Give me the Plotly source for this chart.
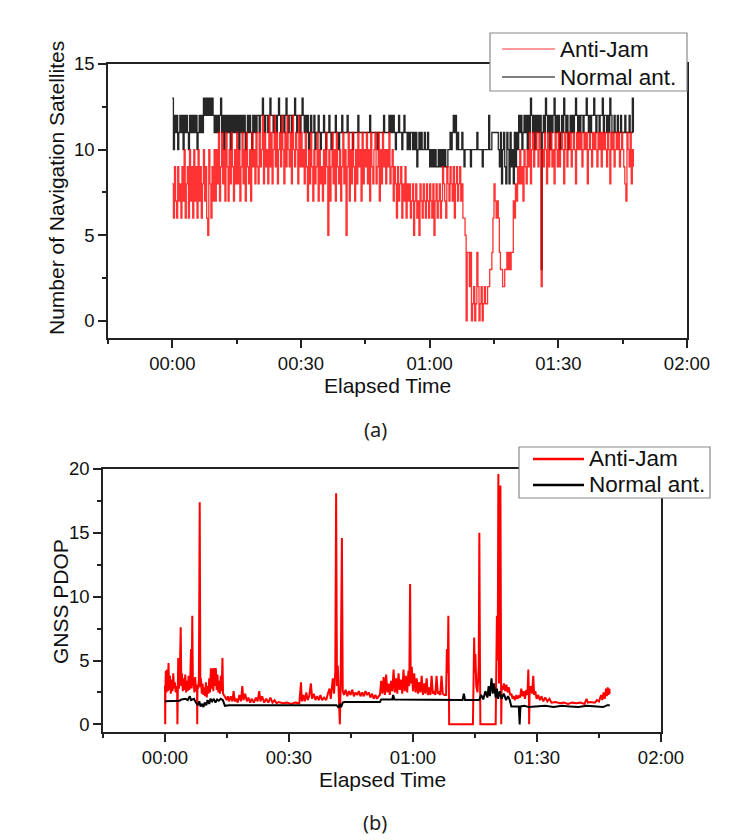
import plotly.graph_objects as go

# ---------------- (a) Number of navigation satellites ----------------
# samples every 15 s (0.25 min), 00:00 .. 01:47:30; one row = 5 minutes
nav_t0 = 0.0
nav_dt = 0.25

nav_normal = [
    13, 10, 12, 11, 12, 10, 11, 12, 11, 12, 10, 12, 11, 12, 11, 10, 12, 11, 12, 11,
    12, 11, 12, 10, 11, 12, 11, 12, 11, 13, 12, 13, 12, 13, 12, 13, 12, 13, 12, 11,
    12, 11, 12, 11, 12, 13, 11, 12, 10, 12, 11, 12, 11, 12, 10, 12, 11, 12, 11, 12,
    11, 12, 10, 12, 11, 12, 11, 12, 10, 11, 12, 11, 12, 11, 10, 12, 11, 12, 11, 12,
    12, 11, 12, 12, 13, 12, 11, 12, 12, 11, 12, 13, 12, 12, 11, 12, 12, 11, 12, 13,
    12, 11, 12, 12, 11, 12, 13, 12, 11, 12, 12, 11, 12, 12, 13, 12, 11, 12, 12, 11,
    12, 13, 12, 11, 12, 11, 12, 10, 11, 12, 11, 11, 12, 10, 11, 11, 12, 11, 10, 11,
    11, 12, 11, 10, 11, 11, 12, 11, 10, 11, 11, 11, 12, 11, 11, 10, 11, 11, 12, 11,
    11, 11, 11, 12, 11, 11, 11, 11, 10, 11, 11, 11, 11, 12, 11, 11, 11, 11, 11, 11,
    11, 11, 11, 11, 12, 11, 11, 11, 11, 11, 11, 10, 11, 11, 11, 11, 11, 12, 11, 11,
    11, 11, 12, 11, 12, 11, 12, 11, 10, 11, 11, 12, 11, 11, 10, 11, 12, 11, 11, 10,
    11, 10, 11, 11, 10, 11, 10, 11, 9, 10, 11, 10, 11, 10, 10, 11, 10, 10, 11, 10,
    9, 10, 9, 10, 9, 10, 9, 9, 10, 9, 10, 9, 10, 9, 10, 9, 9, 10, 10, 11,
    10, 11, 12, 11, 12, 10, 11, 10, 10, 10, 11, 10, 9, 10, 10, 10, 10, 10, 9, 10,
    10, 10, 10, 10, 11, 10, 10, 10, 10, 9, 10, 10, 10, 10, 10, 12, 10, 10, 11, 11,
    11, 11, 11, 11, 10, 9, 11, 8, 10, 11, 9, 8, 11, 10, 8, 11, 9, 10, 8, 11,
    9, 11, 10, 12, 11, 12, 10, 11, 12, 11, 12, 10, 12, 11, 13, 12, 11, 12, 10, 12,
    11, 12, 11, 12, 3, 11, 12, 11, 13, 12, 11, 12, 10, 12, 11, 12, 13, 11, 12, 11,
    12, 10, 11, 12, 11, 13, 12, 11, 12, 10, 11, 12, 11, 12, 11, 12, 13, 12, 11, 12,
    11, 12, 12, 11, 12, 12, 13, 12, 11, 12, 11, 12, 12, 13, 12, 11, 12, 12, 11, 12,
    12, 13, 11, 12, 12, 11, 12, 11, 13, 12, 11, 11, 12, 11, 11, 12, 11, 11, 12, 11,
    11, 11, 12, 11, 11, 11, 12, 11, 11, 13, 11,
]

nav_antijam = [
    8, 6, 9, 7, 6, 9, 7, 8, 6, 9, 7, 10, 6, 8, 9, 6, 10, 7, 9, 6,
    10, 7, 9, 6, 10, 7, 9, 6, 8, 10, 7, 9, 6, 5, 10, 8, 6, 9, 7, 10,
    7, 10, 8, 11, 7, 9, 11, 8, 10, 7, 11, 9, 7, 10, 8, 11, 9, 7, 10, 8,
    11, 8, 10, 7, 9, 11, 8, 10, 7, 11, 9, 8, 10, 7, 11, 9, 10, 8, 11, 9,
    8, 11, 9, 10, 12, 8, 11, 9, 10, 8, 12, 9, 11, 8, 10, 12, 9, 11, 8, 10,
    11, 9, 12, 10, 8, 11, 9, 12, 10, 9, 11, 8, 12, 10, 9, 11, 10, 8, 12, 9,
    11, 9, 10, 8, 11, 9, 7, 10, 8, 11, 9, 7, 10, 8, 9, 11, 7, 10, 8, 9,
    7, 10, 8, 11, 9, 5, 10, 7, 9, 11, 8, 10, 7, 11, 9, 8, 10, 7, 9, 11,
    8, 10, 5, 9, 11, 7, 10, 8, 11, 9, 7, 10, 8, 11, 9, 10, 7, 11, 8, 10,
    9, 11, 8, 10, 7, 11, 9, 8, 10, 11, 8, 9, 11, 7, 10, 8, 11, 9, 10, 8,
    10, 9, 11, 8, 9, 10, 7, 9, 8, 6, 9, 7, 8, 9, 6, 8, 7, 9, 6, 8,
    7, 8, 6, 7, 8, 5, 7, 8, 6, 7, 5, 8, 7, 6, 8, 7, 6, 8, 7, 6,
    8, 7, 6, 8, 5, 7, 8, 6, 7, 8, 6, 7, 9, 8, 7, 6, 9, 8, 7, 9,
    8, 7, 9, 6, 8, 9, 7, 8, 9, 7, 8, 6, 6, 5, 0, 4, 4, 2, 4, 0,
    1, 2, 0, 1, 4, 2, 0, 1, 2, 0, 1, 2, 1, 1, 2, 2, 3, 3, 4, 6,
    8, 7, 6, 7, 6, 4, 3, 3, 2, 2, 3, 3, 4, 3, 4, 3, 4, 4, 7, 6,
    8, 7, 9, 8, 10, 8, 9, 7, 10, 9, 8, 10, 9, 11, 8, 10, 11, 9, 10, 11,
    10, 9, 11, 10, 2, 10, 9, 11, 10, 8, 11, 9, 10, 11, 9, 10, 8, 11, 10, 9,
    11, 9, 10, 11, 10, 8, 11, 10, 9, 11, 10, 11, 9, 10, 11, 10, 8, 11, 10, 11,
    10, 11, 9, 10, 11, 10, 11, 8, 10, 11, 10, 9, 11, 10, 11, 10, 9, 11, 10, 11,
    9, 11, 10, 11, 10, 9, 11, 10, 8, 11, 10, 11, 9, 10, 11, 10, 11, 9, 10, 11,
    10, 9, 8, 7, 11, 10, 9, 11, 8, 10, 9,
]

nav_normal_t = [nav_t0 + i * nav_dt for i in range(len(nav_normal))]
nav_antijam_t = [nav_t0 + i * nav_dt for i in range(len(nav_antijam))]

# ---------------- (b) GNSS PDOP ----------------
pdop_normal_t = [
    0, 3.5, 4, 5, 5.5, 6, 6.3, 7, 7.5, 8, 8.3, 8.6, 9, 9.3, 9.6, 10, 10.3, 10.7,
    11, 11.4, 11.8, 12.2, 12.6, 13, 13.5, 14, 14.5, 15.5, 41.5, 42, 42.3, 42.6,
    43, 43.4, 52, 52.3, 55, 55.2, 55.5, 68, 68.5, 72, 72.3, 72.6, 76, 76.5, 77,
    77.5, 78, 78.3, 78.6, 79, 79.3, 79.6, 80, 80.3, 80.6, 81, 81.4, 82, 82.5, 83,
    83.4, 83.8, 85.6, 85.8, 86, 87, 88, 90, 92, 94, 96, 98, 100, 102, 104, 106,
    107, 107.6,
]
pdop_normal = [
    1.8, 1.85, 1.95, 2.0, 1.9, 2.2, 1.9, 2.0, 1.7, 1.5, 1.8, 1.4, 1.6, 1.35, 1.7,
    1.5, 1.9, 1.6, 2.0, 1.8, 2.0, 1.7, 1.95, 1.85, 2.0, 1.9, 1.45, 1.5, 1.5, 1.3,
    1.6, 1.35, 1.7, 1.75, 1.75, 1.95, 1.95, 2.3, 1.95, 1.95, 1.9, 1.9, 2.4, 1.9,
    1.9, 2.3, 1.95, 2.6, 2.1, 3.0, 2.2, 3.6, 2.4, 3.2, 2.1, 2.8, 2.0, 2.6, 2.0,
    2.4, 1.9, 2.2, 1.9, 1.4, 1.4, 0, 1.4, 1.45, 1.35, 1.4, 1.45, 1.35, 1.45, 1.4,
    1.35, 1.45, 1.4, 1.35, 1.5, 1.5,
]

pdop_antijam_t = [
    0.0, 0.05, 0.1, 0.2, 0.35, 0.5, 0.7, 0.85, 1.0, 1.2, 1.4, 1.6, 1.8, 2.0, 2.2,
    2.4, 2.6, 2.8, 2.95, 3.0, 3.05, 3.2, 3.4, 3.6, 3.8, 3.95, 4.1, 4.3, 4.5, 4.7,
    4.9, 5.1, 5.3, 5.5, 5.7, 5.9, 6.1, 6.3, 6.45, 6.6, 6.75, 6.9, 7.1, 7.3, 7.5,
    7.75, 7.8, 7.85, 8.0, 8.2, 8.4, 8.55, 8.7, 8.9, 9.1, 9.3, 9.5, 9.7, 9.9, 10.1,
    10.3, 10.5, 10.7, 10.9, 11.1, 11.3, 11.5, 11.7, 11.9, 12.1, 12.3, 12.5, 12.7,
    12.9, 13.1, 13.3, 13.5, 13.7, 13.9, 14.05, 14.3, 14.6, 14.9, 15.2, 15.5, 15.9,
    16.3, 16.6, 16.9, 17.3, 17.6, 18.0, 18.4, 18.7, 19.0, 19.4, 19.8, 20.2, 20.6,
    21.0, 21.5, 22.0, 22.4, 22.8, 23.1, 23.5, 24.0, 24.5, 25.0, 25.5, 26.0, 26.5,
    27.0, 27.5, 28.5, 29.5, 30.5, 31.5, 32.5, 32.9, 33.1, 33.5, 33.8, 34.2, 34.5,
    34.9, 35.3, 35.6, 36.0, 36.4, 36.8, 37.2, 37.6, 38.0, 38.5, 39.0, 39.4, 39.8,
    40.1, 40.6, 40.9, 41.2, 41.4, 41.6, 41.8, 42.0, 42.3, 42.5, 42.8, 43.0, 43.3,
    43.7, 44.1, 44.5, 44.9, 45.3, 45.7, 46.1, 46.5, 46.9, 47.3, 47.7, 48.1, 48.5,
    48.9, 49.3, 49.7, 50.1, 50.5, 50.9, 51.3, 51.7, 52.0, 52.3, 52.6, 52.9, 53.2,
    53.5, 53.8, 54.1, 54.4, 54.7, 55.0, 55.3, 55.6, 55.9, 56.2, 56.5, 56.8, 57.1,
    57.4, 57.7, 58.0, 58.3, 58.6, 58.9, 59.1, 59.3, 59.45, 59.7, 60.0, 60.3, 60.6,
    60.9, 61.2, 61.5, 61.8, 62.1, 62.4, 62.7, 63.0, 63.3, 63.6, 63.9, 64.2, 64.5,
    64.8, 65.1, 65.4, 65.7, 66.0, 66.3, 66.6, 66.9, 67.2, 67.6, 68.0, 68.2, 68.4,
    68.55, 68.7, 68.75, 74.5, 74.6, 74.8, 74.95, 75.1, 75.3, 75.6, 75.9, 76.05,
    76.2, 76.3, 80.0, 80.05, 80.3, 80.5, 80.65, 80.8, 81.0, 81.15, 81.3, 81.35,
    81.45, 81.7, 82.0, 82.3, 82.6, 82.9, 83.2, 83.5, 83.8, 84.1, 84.4, 84.7, 85.0,
    85.3, 85.6, 85.9, 86.2, 86.5, 86.8, 87.1, 87.4, 87.7, 87.9, 88.05, 88.1, 88.2,
    88.5, 88.8, 89.1, 89.3, 89.6, 89.9, 90.3, 90.7, 91.1, 91.5, 92.0, 92.5, 93.0,
    93.5, 94.5, 95.5, 96.5, 97.5, 98.5, 99.5, 100.5, 101.5, 102.0, 102.3, 103.0,
    104.0, 104.5, 105.0, 105.5, 105.8, 106.1, 106.4, 106.7, 106.9, 107.1, 107.3,
    107.5, 107.6,
]
pdop_antijam = [
    3.0, 0, 2.8, 4.2, 2.5, 4.3, 2.6, 4.8, 2.7, 3.8, 2.4, 3.5, 2.6, 4.0, 2.8,
    3.3, 2.5, 3.0, 2.6, 0, 2.9, 5.2, 2.8, 4.2, 7.6, 3.0, 4.0, 2.6, 3.6, 2.7,
    3.9, 2.5, 3.4, 2.6, 3.8, 2.7, 3.5, 5.9, 2.8, 8.5, 3.0, 3.6, 2.5, 3.7, 2.6,
    3.0, 0, 3.1, 2.8, 3.5, 17.4, 2.9, 3.6, 2.4, 3.2, 2.3, 2.9, 2.2, 3.3, 2.1,
    3.0, 2.4, 3.6, 2.5, 4.4, 2.8, 4.4, 2.6, 4.4, 3.0, 4.4, 2.7, 3.9,
    2.5, 3.4, 2.4, 3.8, 2.6, 5.2, 2.4, 2.3, 2.1, 1.9, 2.2, 1.8, 2.2,
    1.8, 2.6, 1.8, 2.0, 1.7, 2.3, 1.8, 3.0, 1.9, 2.4, 1.8, 2.1, 1.7,
    2.0, 1.7, 2.1, 1.8, 2.6, 1.8, 2.2, 1.7, 2.0, 1.7, 2.1, 1.7, 1.9,
    1.65, 1.75, 1.65, 1.7, 1.6, 1.7, 1.65, 3.3, 1.8, 2.3, 1.8, 2.5, 1.9,
    2.2, 3.2, 2.0, 2.4, 1.9, 2.2, 1.9, 2.3, 1.9, 2.1, 1.9, 2.4, 2.8,
    2.0, 3.6, 2.4, 4.2, 18.1, 3.0, 4.6, 2.8, 0, 3.2, 14.6, 2.6, 2.3,
    2.7, 2.2, 2.6, 2.3, 2.7, 2.2, 2.5, 2.3, 2.6, 2.2, 2.5, 2.2, 2.6,
    2.3, 2.5, 2.1, 2.4, 2.0, 2.3, 2.0, 2.2, 2.3, 3.4, 2.4, 3.7, 2.3,
    3.9, 2.5, 3.2, 2.3, 3.4, 2.6, 4.3, 2.5, 3.6, 2.4, 4.0, 2.7, 3.5,
    2.4, 4.3, 2.6, 3.8, 2.5, 4.2, 3.0, 11.0, 3.2, 4.5, 2.6, 4.0, 2.5,
    3.6, 2.4, 3.3, 2.5, 3.8, 2.3, 3.2, 2.4, 3.6, 2.3, 2.9, 2.3, 3.8,
    2.4, 2.6, 2.3, 3.8, 2.4, 2.5, 2.3, 3.8, 2.4, 2.3, 2.3, 5.9, 4.0,
    8.5, 5.0, 0, 0, 3.5, 6.8, 4.0, 5.5, 3.0, 2.5, 4.5, 15.0,
    5.0, 0, 0, 3.0, 8.5, 5.0, 19.6, 3.2, 5.5, 18.7, 3.0, 0,
    3.0, 2.7, 3.2, 2.6, 3.1, 2.5, 2.9, 2.3, 2.4, 2.0, 2.2, 1.9, 2.3,
    2.0, 2.2, 2.1, 2.8, 2.2, 2.6, 2.0, 2.7, 2.3, 4.3, 2.0, 0, 2.4,
    3.0, 2.4, 3.8, 2.3, 2.6, 2.0, 2.3, 1.9, 2.2, 1.8, 2.1, 1.8, 2.0,
    1.7, 1.75, 1.65, 1.7, 1.6, 1.7, 1.65, 1.7, 1.6, 2.0, 1.7, 1.75,
    1.7, 1.9, 1.8, 2.3, 1.9, 2.5, 2.0, 2.8, 2.2, 2.9, 2.3,
    2.8, 2.4,
]

series_names = ["Anti-Jam", "Normal ant."]

x_tickvals = [0, 30, 60, 90, 120]
x_ticktext = ["00:00", "00:30", "01:00", "01:30", "02:00"]
x_minor = [-15, 15, 45, 75, 105]

# styles
nav_colors = ["rgba(255,0,0,0.8)", "rgba(0,0,0,0.85)"]
nav_legend_colors = ["#ff7a7a", "#555555"]
pdop_colors = ["#ff0000", "#000000"]

W, H = 741, 840


def px(x):
    return x / W


def py(y):
    return 1 - y / H


fig = go.Figure()

# top chart traces (black drawn first, red on top)
fig.add_trace(go.Scatter(
    x=nav_normal_t, y=nav_normal, mode="lines", name=series_names[1],
    line=dict(color=nav_colors[1], width=1.3, shape="hv"),
    xaxis="x", yaxis="y", showlegend=False,
))
fig.add_trace(go.Scatter(
    x=nav_antijam_t, y=nav_antijam, mode="lines", name=series_names[0],
    line=dict(color=nav_colors[0], width=1.3, shape="hv"),
    xaxis="x", yaxis="y", showlegend=False,
))

# bottom chart traces
fig.add_trace(go.Scatter(
    x=pdop_antijam_t, y=pdop_antijam, mode="lines", name=series_names[0],
    line=dict(color=pdop_colors[0], width=2),
    xaxis="x2", yaxis="y2", showlegend=False,
))
fig.add_trace(go.Scatter(
    x=pdop_normal_t, y=pdop_normal, mode="lines", name=series_names[1],
    line=dict(color=pdop_colors[1], width=2),
    xaxis="x2", yaxis="y2", showlegend=False,
))

tickfont = dict(family="Liberation Sans, Arial, sans-serif", size=18.5, color="#111")
axcol = "#222"


def xax(domain, anchor):
    return dict(
        domain=domain, anchor=anchor, range=[-15, 120], automargin=False,
        tickmode="array", tickvals=x_tickvals, ticktext=x_ticktext,
        ticks="outside", ticklen=8, tickwidth=1.5, tickcolor=axcol,
        minor=dict(tickmode="array", tickvals=x_minor, ticks="outside",
                   ticklen=4, tickwidth=1.5, tickcolor=axcol),
        showline=True, linewidth=1.5, linecolor=axcol, mirror=True,
        showgrid=False, zeroline=False, tickfont=tickfont,
    )


def yax(domain, anchor, rng, major, minor):
    return dict(
        domain=domain, anchor=anchor, range=rng, automargin=False,
        tickmode="array", tickvals=major,
        ticks="outside", ticklen=8, tickwidth=1.5, tickcolor=axcol,
        minor=dict(tickmode="array", tickvals=minor, ticks="outside",
                   ticklen=4, tickwidth=1.5, tickcolor=axcol),
        showline=True, linewidth=1.5, linecolor=axcol, mirror=True,
        showgrid=False, zeroline=False, tickfont=tickfont,
    )


xtitlefont = dict(family="Liberation Sans, Arial, sans-serif", size=21, color="#111")
ytitlefont = dict(family="Liberation Sans, Arial, sans-serif", size=21, color="#111")
legfont = dict(family="Liberation Sans, Arial, sans-serif", size=22.5, color="#111")
capfont = dict(family="Noto Sans, Open Sans, sans-serif", size=20, color="#222")

shapes = []
annotations = []


def add_legend(box, rows, line_x, text_x, colors, width):
    x0, y0, x1, y1 = box
    shapes.append(dict(type="rect", xref="paper", yref="paper", layer="above",
                       x0=px(x0), x1=px(x1), y0=py(y1), y1=py(y0),
                       line=dict(color="#8a8a8a", width=1.2), fillcolor="white"))
    for name, yy, col in zip(series_names, rows, colors):
        shapes.append(dict(type="line", xref="paper", yref="paper", layer="above",
                           x0=px(line_x[0]), x1=px(line_x[1]), y0=py(yy), y1=py(yy),
                           line=dict(color=col, width=width)))
        annotations.append(dict(text=name, x=px(text_x), y=py(yy), xref="paper",
                                yref="paper", showarrow=False, xanchor="left",
                                yanchor="middle", font=legfont))


add_legend((490, 33, 687, 91), (49, 77), (502, 555), 558, nav_legend_colors, 1.3)
add_legend((519, 447, 710, 498), (459, 485), (533, 584), 587, pdop_colors, 2.5)

annotations += [
    dict(text="Elapsed Time", x=px(388), y=py(386), xref="paper", yref="paper",
         showarrow=False, font=xtitlefont, xanchor="center", yanchor="middle"),
    dict(text="Number of Navigation Satellites", x=px(57), y=py(188),
         xref="paper", yref="paper", showarrow=False, font=ytitlefont,
         textangle=-90, xanchor="center", yanchor="middle"),
    dict(text="(a)", x=px(375), y=py(430), xref="paper", yref="paper",
         showarrow=False, xanchor="center", yanchor="middle", font=capfont),
    dict(text="Elapsed Time", x=px(382), y=py(779), xref="paper", yref="paper",
         showarrow=False, font=xtitlefont, xanchor="center", yanchor="middle"),
    dict(text="GNSS PDOP", x=px(60), y=py(602), xref="paper", yref="paper",
         showarrow=False, font=ytitlefont, textangle=-90,
         xanchor="center", yanchor="middle"),
    dict(text="(b)", x=px(375), y=py(822), xref="paper", yref="paper",
         showarrow=False, xanchor="center", yanchor="middle", font=capfont),
]

fig.update_layout(
    width=W, height=H, autosize=False,
    margin=dict(l=0, r=0, t=0, b=0, pad=0, autoexpand=False),
    paper_bgcolor="white", plot_bgcolor="white",
    xaxis=xax([px(108), px(687)], "y"),
    yaxis=yax([py(338), py(64)], "x", [-1, 15], [0, 5, 10, 15], [2.5, 7.5, 12.5]),
    xaxis2=xax([px(103), px(661)], "y2"),
    yaxis2=yax([py(732), py(469)], "x2", [-0.6, 20], [0, 5, 10, 15, 20],
               [2.5, 7.5, 12.5, 17.5]),
    showlegend=False,
    shapes=shapes,
    annotations=annotations,
)

fig.write_html(
    "out.html",
    config={"displayModeBar": False, "responsive": False},
    post_script=(
        "document.documentElement.style.margin='0';"
        "document.body.style.margin='0';"
        "document.body.style.padding='0';"
        "document.documentElement.style.overflow='hidden';"
        "document.body.style.overflow='hidden';"
    ),
)
